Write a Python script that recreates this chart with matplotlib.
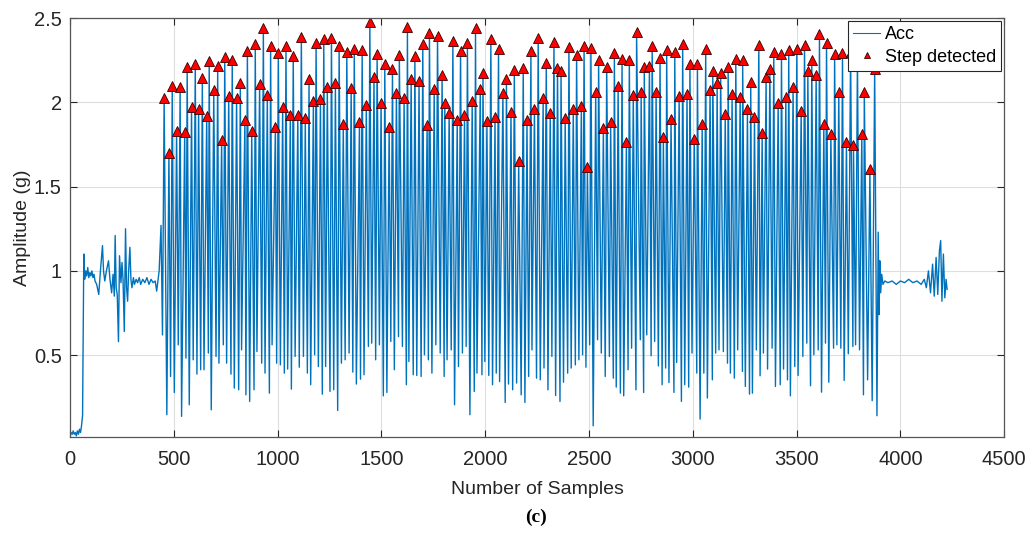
import numpy as np
import matplotlib
matplotlib.use('Agg')
import matplotlib.pyplot as plt

plt.rcParams['font.family'] = ['Liberation Sans', 'DejaVu Sans']

# sensor lying still, then picked up and held before walking
start_x = [0, 5, 10, 15, 20, 25, 30, 35, 40, 45, 50, 55, 60, 66, 70, 75, 80, 85, 90, 95,
           100, 105, 110, 115, 120, 128, 138, 146, 156, 161, 167, 175, 185, 192, 200, 207,
           213, 217, 222, 227, 233, 238, 245, 250, 255, 261, 267, 272, 277, 282, 288, 293,
           298, 305, 310, 318, 325, 333, 340, 350, 360, 370, 380, 390, 400, 410, 417, 424,
           429, 438, 445]
start_y = [0.02, 0.04, 0.03, 0.05, 0.03, 0.04, 0.02, 0.05, 0.03, 0.06, 0.04, 0.08, 0.14,
           1.10, 0.95, 1.00, 0.97, 1.02, 0.96, 0.99, 0.97, 1.00, 0.96, 0.98, 0.94, 0.92,
           0.86, 1.00, 1.15, 1.00, 0.94, 1.00, 1.06, 0.95, 0.87, 0.98, 0.85, 1.21, 0.90,
           0.86, 0.58, 1.09, 0.93, 1.05, 0.95, 0.64, 1.25, 0.90, 0.82, 1.00, 1.14, 0.95,
           0.90, 0.96, 0.92, 0.95, 0.93, 0.96, 0.92, 0.95, 0.93, 0.96, 0.92, 0.95, 0.93,
           0.94, 0.88, 0.95, 1.00, 1.27, 0.62]

# detected steps (acceleration peaks)
step_x = [453, 476, 492, 513, 530, 552, 564, 585, 603, 619,
          637, 658, 670, 692, 711, 730, 745, 764, 781, 802,
          820, 842, 854, 875, 892, 913, 931, 950, 966, 989,
          1003, 1024, 1040, 1061, 1075, 1097, 1114, 1133, 1151, 1172,
          1185, 1206, 1222, 1239, 1259, 1278, 1296, 1316, 1333, 1354,
          1369, 1394, 1407, 1427, 1444, 1464, 1479, 1498, 1516, 1537,
          1553, 1572, 1586, 1609, 1625, 1643, 1661, 1681, 1699, 1720,
          1731, 1754, 1770, 1792, 1805, 1826, 1844, 1865, 1881, 1900,
          1914, 1937, 1953, 1976, 1989, 2008, 2027, 2047, 2064, 2085,
          2102, 2124, 2140, 2161, 2183, 2201, 2220, 2237, 2255, 2279,
          2294, 2313, 2331, 2348, 2365, 2385, 2403, 2424, 2440, 2463,
          2476, 2492, 2509, 2532, 2546, 2569, 2585, 2604, 2622, 2640,
          2659, 2680, 2694, 2713, 2729, 2751, 2766, 2791, 2804, 2823,
          2842, 2858, 2874, 2895, 2913, 2934, 2951, 2972, 2986, 3007,
          3022, 3045, 3062, 3083, 3096, 3117, 3134, 3156, 3170, 3189,
          3207, 3228, 3240, 3263, 3279, 3297, 3318, 3334, 3353, 3371,
          3390, 3411, 3427, 3448, 3462, 3483, 3501, 3522, 3538, 3554,
          3573, 3594, 3610, 3631, 3644, 3665, 3683, 3703, 3721, 3740,
          3760, 3774, 3793, 3814, 3826, 3853, 3876]
step_y = [2.025, 1.699, 2.100, 1.829, 2.090, 1.823, 2.213, 1.974, 2.231, 1.963,
          2.147, 1.920, 2.248, 2.074, 2.217, 1.776, 2.270, 2.037, 2.253, 2.027,
          2.116, 1.898, 2.308, 1.831, 2.346, 2.112, 2.441, 2.043, 2.336, 1.857,
          2.292, 1.974, 2.336, 1.926, 2.278, 1.924, 2.387, 1.906, 2.138, 2.011,
          2.352, 2.021, 2.377, 2.090, 2.383, 2.118, 2.336, 1.873, 2.298, 2.088,
          2.320, 1.883, 2.310, 1.984, 2.476, 2.153, 2.286, 1.996, 2.229, 1.857,
          2.197, 2.058, 2.282, 2.025, 2.447, 2.138, 2.276, 2.128, 2.346, 1.867,
          2.415, 2.080, 2.395, 2.165, 1.996, 1.940, 2.365, 1.896, 2.308, 1.924,
          2.352, 2.011, 2.441, 2.082, 2.174, 1.889, 2.377, 1.912, 2.318, 2.058,
          2.142, 1.946, 2.191, 1.650, 2.207, 1.898, 2.304, 1.962, 2.383, 2.025,
          2.233, 1.936, 2.361, 2.207, 2.189, 1.908, 2.330, 1.962, 2.280, 1.981,
          2.336, 1.617, 2.324, 2.064, 2.251, 1.847, 2.213, 1.883, 2.292, 2.096,
          2.257, 1.766, 2.251, 2.043, 2.420, 2.061, 2.211, 2.217, 2.336, 2.061,
          2.266, 1.794, 2.310, 1.901, 2.300, 2.037, 2.347, 2.049, 2.229, 1.784,
          2.229, 1.873, 2.318, 2.074, 2.187, 2.118, 2.174, 1.930, 2.213, 2.051,
          2.260, 2.031, 2.254, 1.963, 2.124, 1.916, 2.340, 1.819, 2.153, 2.197,
          2.298, 1.999, 2.286, 2.031, 2.312, 2.090, 2.320, 1.952, 2.342, 2.185,
          2.251, 2.162, 2.405, 1.873, 2.352, 1.813, 2.286, 2.061, 2.292, 1.764,
          2.300, 1.746, 2.280, 1.813, 2.064, 1.606, 2.200]

# minima between steps
valley_x = [466, 484, 502, 521, 537, 558, 574, 593, 611, 629,
            645, 666, 680, 703, 717, 738, 754, 775, 791, 812,
            826, 847, 865, 886, 900, 923, 939, 960, 973, 995,
            1013, 1032, 1048, 1066, 1084, 1104, 1124, 1143, 1159, 1178,
            1196, 1215, 1231, 1252, 1270, 1289, 1307, 1325, 1344, 1362,
            1379, 1399, 1416, 1437, 1453, 1472, 1490, 1509, 1526, 1545,
            1562, 1582,
            1601, 1620, 1632, 1653, 1670, 1691, 1707, 1726, 1743, 1762,
            1783, 1802, 1816, 1836, 1852, 1871, 1890, 1908, 1926, 1947,
            1960, 1984, 1998, 2017, 2035, 2053, 2069, 2096, 2112, 2132,
            2151, 2173, 2191, 2209, 2225, 2247, 2265, 2283, 2302, 2321,
            2339, 2360, 2377, 2397, 2414, 2434, 2451, 2469, 2485, 2503,
            2520, 2541, 2559, 2578, 2598, 2617, 2631, 2651, 2667, 2688,
            2705, 2726, 2747,
            2763, 2778, 2799, 2816, 2834, 2852, 2869, 2885, 2909, 2922,
            2945, 2961, 2980, 2996, 3019, 3035, 3053, 3070, 3094, 3110,
            3126, 3147, 3167, 3181, 3200, 3216, 3239, 3253, 3273, 3287,
            3306, 3324, 3340, 3360, 3382, 3398, 3421, 3437, 3456, 3470,
            3491, 3507, 3530, 3549, 3567, 3583, 3604, 3620, 3639, 3655,
            3678, 3694, 3713, 3729, 3749, 3771, 3784, 3803, 3822, 3842,
            3864, 3887]
valley_y = [0.146, 0.373, 0.278, 0.561, 0.136, 0.482, 0.205, 0.472, 0.387, 0.413,
            0.413, 0.512, 0.175, 0.492, 0.452, 0.561, 0.452, 0.387, 0.304, 0.294,
            0.531, 0.264, 0.225, 0.294, 0.521, 0.452, 0.393, 0.274, 0.561, 0.452,
            0.442, 0.393, 0.417, 0.298, 0.492, 0.428, 0.492, 0.393, 0.324, 0.502,
            0.432, 0.268, 0.432, 0.284, 0.294, 0.171, 0.452, 0.472, 0.512, 0.399,
            0.328, 0.357, 0.383, 0.551, 0.571, 0.472, 0.561, 0.258, 0.278, 0.581,
            0.413, 0.610,
            0.551, 0.324, 0.462, 0.383, 0.379, 0.373, 0.502, 0.472, 0.393, 0.561,
            0.512, 0.373, 0.472, 0.531, 0.205, 0.432, 0.512, 0.551, 0.146, 0.284,
            0.393, 0.383, 0.462, 0.379, 0.324, 0.393, 0.343, 0.219, 0.328, 0.294,
            0.334, 0.264, 0.219, 0.373, 0.531, 0.363, 0.353, 0.423, 0.294, 0.492,
            0.260, 0.225, 0.339, 0.393, 0.423, 0.442, 0.472, 0.502, 0.428, 0.561,
            0.080, 0.591, 0.512, 0.373, 0.492, 0.363, 0.310, 0.274, 0.258, 0.413,
            0.541, 0.294, 0.591,
            0.278, 0.620, 0.496, 0.581, 0.436, 0.324, 0.423, 0.337, 0.278, 0.456,
            0.225, 0.324, 0.310, 0.512, 0.393, 0.120, 0.393, 0.245, 0.353, 0.512,
            0.531, 0.521, 0.452, 0.393, 0.363, 0.531, 0.403, 0.314, 0.268, 0.274,
            0.531, 0.377, 0.512, 0.417, 0.541, 0.314, 0.324, 0.417, 0.353, 0.258,
            0.432, 0.379, 0.492, 0.571, 0.318, 0.502, 0.531, 0.280, 0.571, 0.339,
            0.541, 0.561, 0.541, 0.349, 0.508, 0.551, 0.561, 0.531, 0.264, 0.353,
            0.229, 0.140]

# standing still after the walk
end_x = [3893, 3897, 3901, 3905, 3910, 3916, 3925, 3940, 3960, 3980, 4000, 4020, 4040,
         4060, 4080, 4100, 4115, 4125, 4135, 4145, 4155, 4163, 4172, 4180, 4188, 4194,
         4200, 4207, 4214, 4220, 4225]
end_y = [1.23, 0.74, 1.06, 0.87, 0.98, 0.92, 0.94, 0.93, 0.94, 0.92, 0.94, 0.93, 0.95,
         0.93, 0.94, 0.92, 0.95, 0.90, 1.00, 0.87, 1.04, 0.85, 1.08, 0.86, 1.12, 1.18,
         0.82, 1.10, 0.84, 0.95, 0.89]

x = np.concatenate([start_x, step_x, valley_x, end_x]).astype(float)
y = np.concatenate([start_y, step_y, valley_y, end_y])
order = np.argsort(x, kind='stable')
x, y = x[order], y[order]

fig = plt.figure(figsize=(10.31, 5.37), dpi=100)
ax = fig.add_axes([0.068, 0.186, 0.906, 0.780])

ax.plot(x, y, color='#0072BD', lw=1.0, label='Acc')
ax.plot(step_x, step_y, linestyle='none', marker='^', markersize=6.5,
        markerfacecolor='#FF0000', markeredgecolor='#3a0000', markeredgewidth=0.6,
        label='Step detected')

ax.set_xlim(0, 4500)
ax.set_ylim(0.013, 2.5)
ax.set_xticks(np.arange(0, 4501, 500))
ax.set_yticks([0.5, 1, 1.5, 2, 2.5])
ax.set_yticklabels(['0.5', '1', '1.5', '2', '2.5'])
ax.grid(True, color='#dedede', lw=0.8)
ax.set_axisbelow(True)
ax.tick_params(direction='in', length=5, width=0.8, top=True, right=True,
               labelsize=14.5, colors='#262626')
ax.tick_params(axis='x', pad=9)
ax.tick_params(axis='y', pad=6)
for s in ax.spines.values():
    s.set_color('#555555')
    s.set_linewidth(0.9)

ax.set_xlabel('Number of Samples', fontsize=14, color='#262626', labelpad=9)
ax.set_ylabel('Amplitude (g)', fontsize=14, color='#262626', labelpad=2)

leg = ax.legend(loc='upper right', fontsize=13, fancybox=False, framealpha=1,
                edgecolor='#262626', borderaxespad=0.15, borderpad=0.3,
                handlelength=1.5, handletextpad=0.25, labelspacing=0.3,
                markerscale=0.75)
leg.get_frame().set_linewidth(0.8)
leg.get_lines()[0].set_linewidth(0.8)

fig.text(0.52, 1 - 517 / 537, '(c)', ha='center', va='center', fontsize=14,
         fontweight='bold', family='Liberation Serif')

fig.savefig('out.png', dpi=100)
